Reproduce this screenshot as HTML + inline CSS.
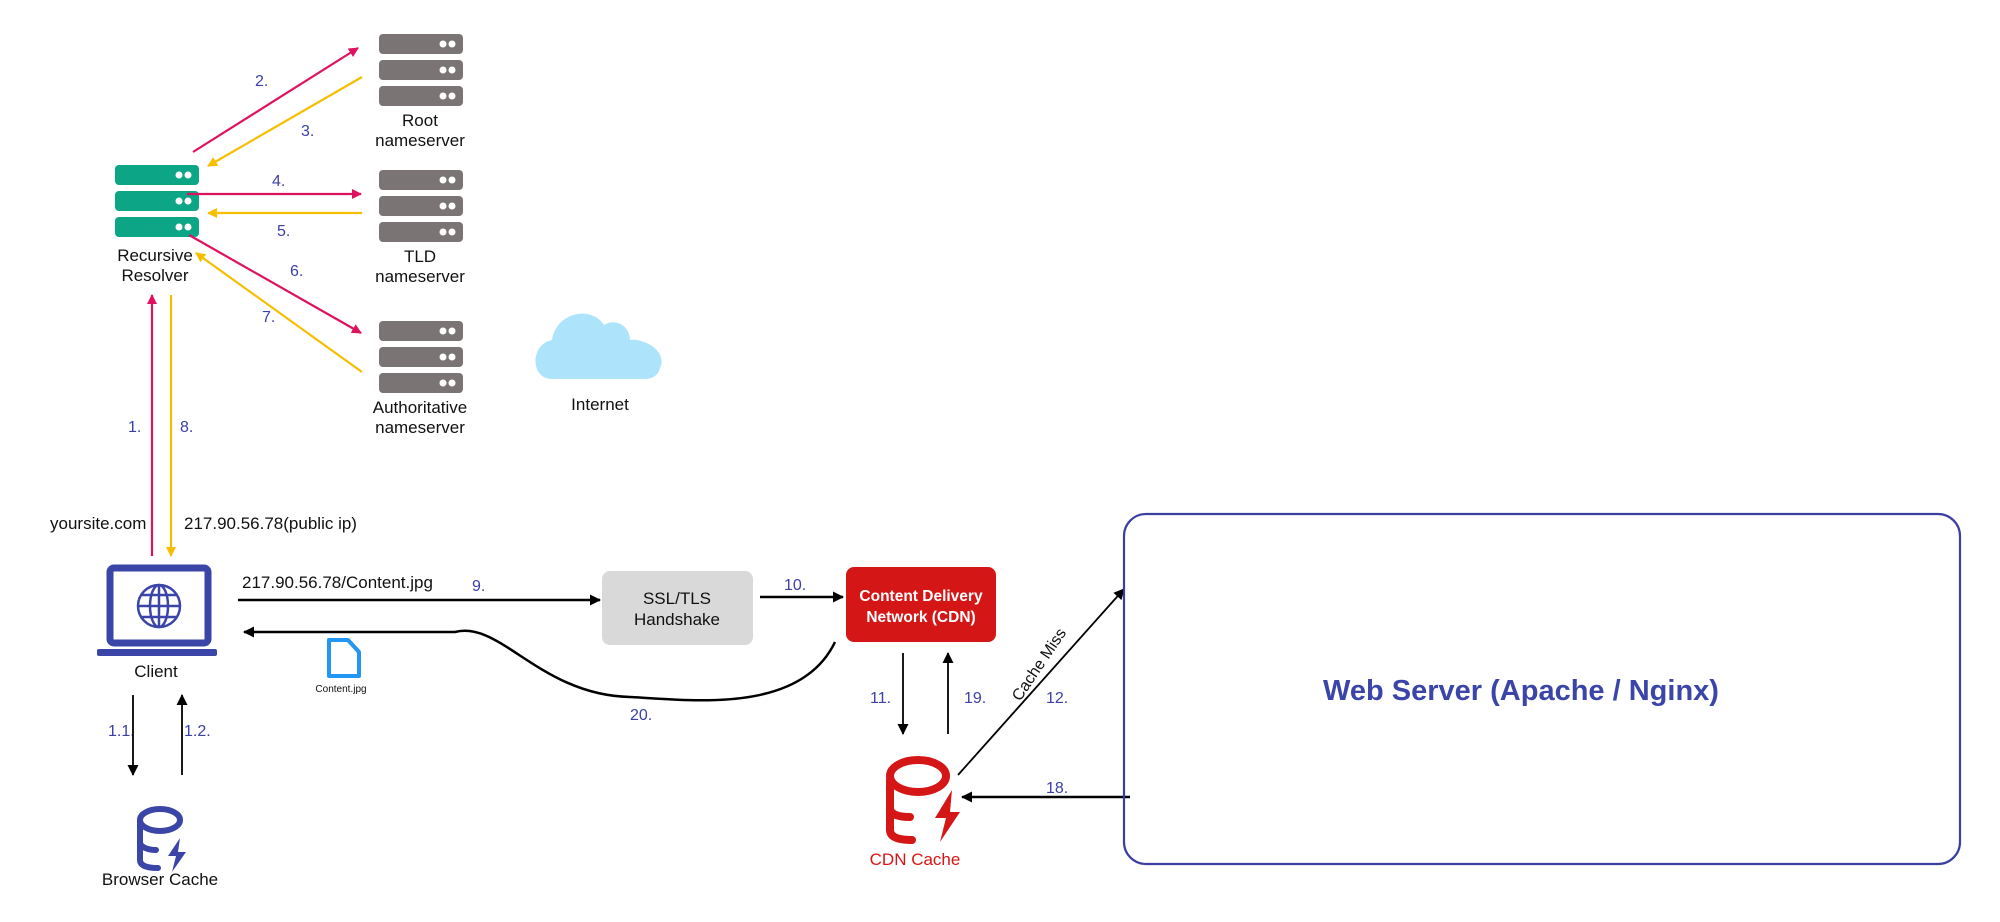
<!DOCTYPE html>
<html><head><meta charset="utf-8"><style>
html,body{margin:0;padding:0;background:#fff;}
svg{display:block;}
text{font-family:"Liberation Sans",sans-serif;}
</style></head><body>
<svg width="2000" height="922" viewBox="0 0 2000 922" xmlns="http://www.w3.org/2000/svg">
<defs>
<marker id="ar" markerWidth="10" markerHeight="10" refX="9" refY="5" orient="auto" markerUnits="userSpaceOnUse"><path d="M0,0 L10,5 L0,10 z" fill="#e0115f"/></marker>
<marker id="ay" markerWidth="10" markerHeight="10" refX="9" refY="5" orient="auto" markerUnits="userSpaceOnUse"><path d="M0,0 L10,5 L0,10 z" fill="#f7be00"/></marker>
<marker id="ak" markerWidth="11" markerHeight="11" refX="10" refY="5.5" orient="auto" markerUnits="userSpaceOnUse"><path d="M0,0 L11,5.5 L0,11 z" fill="#000"/></marker>
<g id="srv">
<rect x="0" y="0" width="84" height="20" rx="4"/>
<rect x="0" y="26" width="84" height="20" rx="4"/>
<rect x="0" y="52" width="84" height="20" rx="4"/>
<g fill="#fff"><circle cx="64" cy="10" r="3.5"/><circle cx="73" cy="10" r="3.5"/><circle cx="64" cy="36" r="3.5"/><circle cx="73" cy="36" r="3.5"/><circle cx="64" cy="62" r="3.5"/><circle cx="73" cy="62" r="3.5"/></g>
</g>
</defs>

<!-- servers -->
<use href="#srv" x="379" y="34" fill="#7a7474"/>
<use href="#srv" x="379" y="170" fill="#7a7474"/>
<use href="#srv" x="379" y="321" fill="#7a7474"/>
<use href="#srv" x="115" y="165" fill="#0ca585"/>

<!-- SSL box -->
<rect x="602" y="571" width="151" height="74" rx="8" fill="#d9d9d9"/>
<!-- CDN box -->
<rect x="846" y="567" width="150" height="75" rx="8" fill="#d41616"/>
<text x="921" y="601" font-size="15.5" font-weight="bold" fill="#fff" text-anchor="middle">Content Delivery</text>
<text x="921" y="622" font-size="15.5" font-weight="bold" fill="#fff" text-anchor="middle">Network (CDN)</text>

<g font-size="17" fill="#111" text-anchor="middle">
<text x="420" y="126">Root</text><text x="420" y="146">nameserver</text>
<text x="420" y="262">TLD</text><text x="420" y="282">nameserver</text>
<text x="420" y="413">Authoritative</text><text x="420" y="433">nameserver</text>
<text x="155" y="261">Recursive</text><text x="155" y="281">Resolver</text>
<text x="600" y="410">Internet</text>
<text x="156" y="677">Client</text>
<text x="160" y="885">Browser Cache</text>
<text x="50" y="529" text-anchor="start">yoursite.com</text>
<text x="184" y="529" text-anchor="start">217.90.56.78(public ip)</text>
<text x="242" y="588" text-anchor="start">217.90.56.78/Content.jpg</text>
<text x="677" y="604">SSL/TLS</text><text x="677" y="625">Handshake</text>
</g>
<text x="915" y="865" font-size="17" fill="#d41616" text-anchor="middle">CDN Cache</text>

<!-- DNS arrows -->
<g stroke-width="2.2" fill="none">
<line x1="193" y1="152" x2="358" y2="48" stroke="#e0115f" marker-end="url(#ar)"/>
<line x1="362" y1="77" x2="208" y2="166" stroke="#f7be00" marker-end="url(#ay)"/>
<line x1="187" y1="194" x2="361" y2="194" stroke="#e0115f" marker-end="url(#ar)"/>
<line x1="362" y1="213" x2="208" y2="213" stroke="#f7be00" marker-end="url(#ay)"/>
<line x1="189" y1="235" x2="361" y2="333" stroke="#e0115f" marker-end="url(#ar)"/>
<line x1="362" y1="372" x2="196" y2="253" stroke="#f7be00" marker-end="url(#ay)"/>
<line x1="152" y1="556" x2="152" y2="295" stroke="#e0115f" marker-end="url(#ar)"/>
<line x1="171" y1="295" x2="171" y2="556" stroke="#f7be00" marker-end="url(#ay)"/>
</g>

<g font-size="16" fill="#3b3fa8">
<text x="255" y="86">2.</text><text x="301" y="136">3.</text>
<text x="272" y="186">4.</text><text x="277" y="236">5.</text>
<text x="290" y="276">6.</text><text x="262" y="322">7.</text>
<text x="128" y="432">1.</text><text x="180" y="432">8.</text>
<text x="472" y="591">9.</text><text x="784" y="590">10.</text>
<text x="630" y="720">20.</text>
<text x="870" y="703">11.</text><text x="964" y="703">19.</text>
<text x="1046" y="703">12.</text><text x="1046" y="793">18.</text>
<text x="108" y="736">1.1.</text><text x="184" y="736">1.2.</text>
</g>

<!-- cloud -->
<path d="M552,379 C530,379 530,344 552,340 C556,312 592,305 604,325 C614,318 630,325 630,340 C645,338 668,352 660,368 C658,376 652,379 645,379 Z" fill="#aee4fb"/>

<!-- client laptop -->
<rect x="110" y="568" width="98" height="75" rx="4" fill="none" stroke="#3b45a8" stroke-width="7"/>
<rect x="97" y="649" width="120" height="7" rx="2" fill="#3b45a8"/>
<g fill="none" stroke="#3b45a8" stroke-width="2.5">
<circle cx="159" cy="606" r="21"/>
<ellipse cx="159" cy="606" rx="9" ry="21"/>
<line x1="159" y1="585" x2="159" y2="627"/>
<line x1="138" y1="606" x2="180" y2="606"/>
<line x1="142" y1="595" x2="176" y2="595"/>
<line x1="142" y1="617" x2="176" y2="617"/>
</g>

<!-- black arrows -->
<g stroke="#000" stroke-width="2.5" fill="none">
<line x1="238" y1="600" x2="600" y2="600" marker-end="url(#ak)"/>
<line x1="760" y1="597" x2="843" y2="597" marker-end="url(#ak)"/>
<path d="M835,642 C800,715 690,700 630,697 C540,695 500,620 455,632 L244,632" marker-end="url(#ak)"/>
</g>
<g stroke="#000" stroke-width="1.8" fill="none">
<line x1="903" y1="653" x2="903" y2="734" marker-end="url(#ak)"/>
<line x1="948" y1="734" x2="948" y2="653" marker-end="url(#ak)"/>
<line x1="958" y1="775" x2="1124" y2="589" marker-end="url(#ak)"/>
<line x1="133" y1="695" x2="133" y2="775" marker-end="url(#ak)"/>
<line x1="182" y1="775" x2="182" y2="695" marker-end="url(#ak)"/>
</g>
<line x1="1130" y1="797" x2="962" y2="797" stroke="#000" stroke-width="2.5" marker-end="url(#ak)"/>
<text x="0" y="0" font-size="16" fill="#111" transform="translate(1020,702) rotate(-56)">Cache Miss</text>

<!-- content.jpg file -->
<path d="M329,640 L348,640 L359,652 L359,676 L329,676 Z" fill="none" stroke="#2196f3" stroke-width="4" stroke-linejoin="round"/>
<text x="341" y="692" font-size="10" fill="#111" text-anchor="middle">Content.jpg</text>

<!-- browser cache icon -->
<g fill="none" stroke="#3b45a8" stroke-width="6" stroke-linecap="round">
<ellipse cx="160" cy="820" rx="20" ry="11"/>
<path d="M140,822 L140,860 C140,866 148,868 158,868"/>
<path d="M140,842 C140,848 150,850 156,850"/>
</g>
<path d="M180,838 L168,856 L176,856 L172,872 L186,852 L178,852 Z" fill="#3b45a8"/>

<!-- CDN cache icon -->
<g fill="none" stroke="#d41616" stroke-width="8" stroke-linecap="round">
<ellipse cx="918" cy="776" rx="28" ry="16"/>
<path d="M890,780 L890,830 C890,838 900,840 912,840"/>
<path d="M890,808 C890,815 900,817 910,817"/>
</g>
<path d="M952,790 L935,818 L946,818 L940,842 L960,812 L950,812 Z" fill="#d41616"/>

<!-- web server -->
<rect x="1124" y="514" width="836" height="350" rx="22" fill="none" stroke="#3b3fa0" stroke-width="2.2"/>
<text x="1521" y="700" font-size="29" font-weight="bold" fill="#3b45a8" text-anchor="middle">Web Server (Apache / Nginx)</text>
</svg>
</body></html>
